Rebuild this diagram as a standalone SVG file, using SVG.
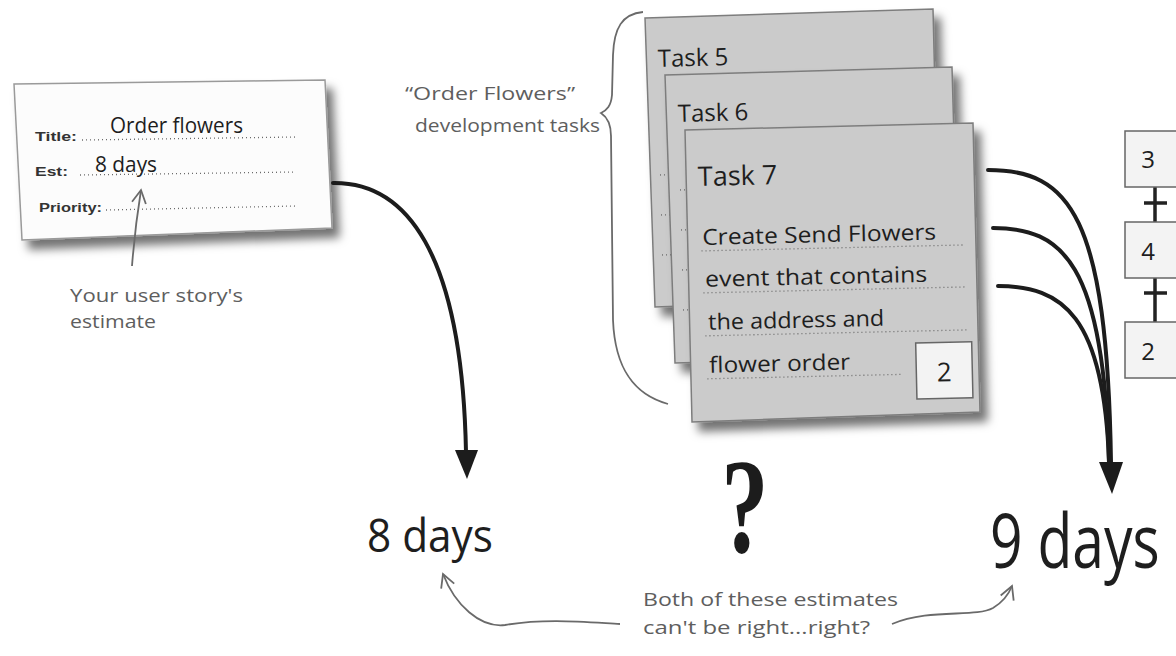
<svg xmlns="http://www.w3.org/2000/svg" width="1176" height="656" viewBox="0 0 1176 656">
<defs>
<filter id="sh" x="-10%" y="-10%" width="130%" height="130%">
<feDropShadow dx="7" dy="9" stdDeviation="5" flood-color="#000" flood-opacity="0.55"/>
</filter>
<marker id="open" viewBox="0 0 16 16" refX="14" refY="8" markerWidth="16" markerHeight="16" markerUnits="userSpaceOnUse" orient="auto">
<path d="M1,1 L14,8 L1,15" fill="none" stroke="#6a6a6a" stroke-width="1.8"/>
</marker>
</defs>
<style>
.card{fill:#fcfcfc;stroke:#9a9a9a;stroke-width:1.5}
.task{fill:#cbcbcb;stroke:#7d7d7d;stroke-width:1.5}
.dot{stroke:#6a6a6a;stroke-width:1.3;stroke-dasharray:1 3;fill:none}
.lbl{font-family:"Liberation Sans",Arial,sans-serif;font-weight:bold;font-size:13px;fill:#333}
.hw{font-family:"Open Sans","Liberation Sans",sans-serif;fill:#1e1e1e}
.note{font-family:"Open Sans","Liberation Sans",sans-serif;fill:#5e5e5e;font-size:19px}
.blk{stroke:#1c1c1c;stroke-width:4;fill:none;stroke-linecap:round}
.gry{stroke:#6a6a6a;stroke-width:1.8;fill:none}
.box{fill:#f3f3f3;stroke:#666;stroke-width:1.5}
</style>
<rect width="1176" height="656" fill="#ffffff"/>

<g id="story-card">
<polygon class="card" filter="url(#sh)" points="14,84 325,80 332,228 22,240"/>
<text class="lbl" x="35" y="141" textLength="42" lengthAdjust="spacingAndGlyphs">Title:</text>
<path class="dot" d="M82,140 L296,137"/>
<text class="hw" x="110" y="133" font-size="22" textLength="133" lengthAdjust="spacingAndGlyphs">Order flowers</text>
<text class="lbl" x="35" y="176" textLength="33" lengthAdjust="spacingAndGlyphs">Est:</text>
<path class="dot" d="M80,175 L296,172"/>
<text class="hw" x="95" y="172" font-size="21" textLength="62" lengthAdjust="spacingAndGlyphs">8 days</text>
<text class="lbl" x="39" y="212" textLength="63" lengthAdjust="spacingAndGlyphs">Priority:</text>
<path class="dot" d="M106,210 L296,206"/>
</g>

<g id="story-note">
<path class="gry" d="M132,266 C134,240 137,215 141,190" marker-end="url(#open)"/>
<text class="note" x="70" y="302" textLength="173" lengthAdjust="spacingAndGlyphs">Your user story's</text>
<text class="note" x="70" y="328" textLength="86" lengthAdjust="spacingAndGlyphs">estimate</text>
</g>

<g id="brace-note">
<path class="gry" d="M643,12 C622,14 614,28 613,55 L612,95 C611,106 607,110 601,113 C607,117 611,123 611,136 L613,320 C615,370 635,395 668,404"/>
<text class="note" x="405" y="100" textLength="170" lengthAdjust="spacingAndGlyphs">“Order Flowers”</text>
<text class="note" x="415" y="132" textLength="185" lengthAdjust="spacingAndGlyphs">development tasks</text>
</g>

<g id="task5">
<polygon class="task" filter="url(#sh)" points="645,18 933,9 940,297 655,307"/>
<text class="hw" x="658" y="67" font-size="24" transform="rotate(-1.5 658 67)">Task 5</text>
<path class="dot" d="M660,175 L930,168 M661,215 L931,208 M662,255 L932,248"/>
</g>

<g id="task6">
<polygon class="task" filter="url(#sh)" points="665,75 952,67 960,355 675,363"/>
<text class="hw" x="678" y="122" font-size="24" transform="rotate(-1.5 678 122)">Task 6</text>
<path class="dot" d="M680,190 L950,183 M681,230 L951,223 M682,270 L952,263 M683,310 L953,303"/>
</g>

<g id="task7">
<polygon class="task" filter="url(#sh)" points="685,130 973,123 980,412 692,422"/>
<g transform="rotate(-1.3 830 270)">
<text class="hw" x="700" y="183" font-size="27">Task 7</text>
<text class="hw" x="703" y="242" font-size="22" textLength="234" lengthAdjust="spacingAndGlyphs">Create Send Flowers</text>
<path class="dot" d="M702,248 L966,248"/>
<text class="hw" x="705" y="284" font-size="22" textLength="222" lengthAdjust="spacingAndGlyphs">event that contains</text>
<path class="dot" d="M703,290 L967,290"/>
<text class="hw" x="707" y="327" font-size="22" textLength="176" lengthAdjust="spacingAndGlyphs">the address and</text>
<path class="dot" d="M704,333 L968,333"/>
<text class="hw" x="707" y="370" font-size="22" textLength="141" lengthAdjust="spacingAndGlyphs">flower order</text>
<path class="dot" d="M705,376 L900,376"/>
<rect class="box" x="914" y="345" width="56" height="56" fill="none"/>
<text class="hw" x="942" y="384" font-size="26" text-anchor="middle">2</text>
</g>
</g>

<g id="sum-boxes">
<path d="M1155,187 L1155,222 M1144,203 L1167,203 M1155,278 L1155,322 M1144,293 L1167,293" stroke="#222" stroke-width="3.5" fill="none"/>
<rect class="box" x="1125" y="131" width="60" height="56"/>
<text class="hw" x="1148" y="168" font-size="24" text-anchor="middle">3</text>
<rect class="box" x="1125" y="222" width="60" height="56"/>
<text class="hw" x="1148" y="260" font-size="24" text-anchor="middle">4</text>
<rect class="box" x="1125" y="322" width="60" height="56"/>
<text class="hw" x="1148" y="360" font-size="24" text-anchor="middle">2</text>
</g>

<g id="connectors">
<path class="blk" d="M333,183 C405,182 462,250 466,452"/>
<polygon points="455,450 478,450 467,479" fill="#1c1c1c"/>
<path class="blk" d="M988,170 C1070,170 1107,215 1111,462"/>
<path class="blk" d="M993,228 C1062,228 1104,262 1109,462"/>
<path class="blk" d="M998,286 C1062,286 1104,315 1109,462"/>
<polygon points="1099,462 1123,462 1112,494" fill="#1c1c1c"/>
</g>

<g id="estimate-8">
<text class="hw" x="367" y="552" font-size="45" textLength="126" lengthAdjust="spacingAndGlyphs">8 days</text>
</g>

<g id="question">
<text x="745" y="552" font-family="'Liberation Serif',serif" font-weight="bold" font-size="135" fill="#1c1c1c" text-anchor="middle" transform="translate(745 0) scale(0.7 1) translate(-745 0)">?</text>
</g>

<g id="estimate-9">
<text class="hw" x="990" y="568" font-size="57" transform="translate(0 568) scale(1 1.3) translate(0 -568)">9 days</text>
</g>

<g id="bottom-note">
<text class="note" x="643" y="606" textLength="255" lengthAdjust="spacingAndGlyphs">Both of these estimates</text>
<text class="note" x="643" y="634" textLength="227" lengthAdjust="spacingAndGlyphs">can't be right...right?</text>
<path class="gry" d="M620,624 C585,622 545,618 505,625 C480,628 455,605 443,574" marker-end="url(#open)"/>
<path class="gry" d="M892,624 C930,608 975,618 993,608 C1003,602 1008,596 1012,586" marker-end="url(#open)"/>
</g>
</svg>
